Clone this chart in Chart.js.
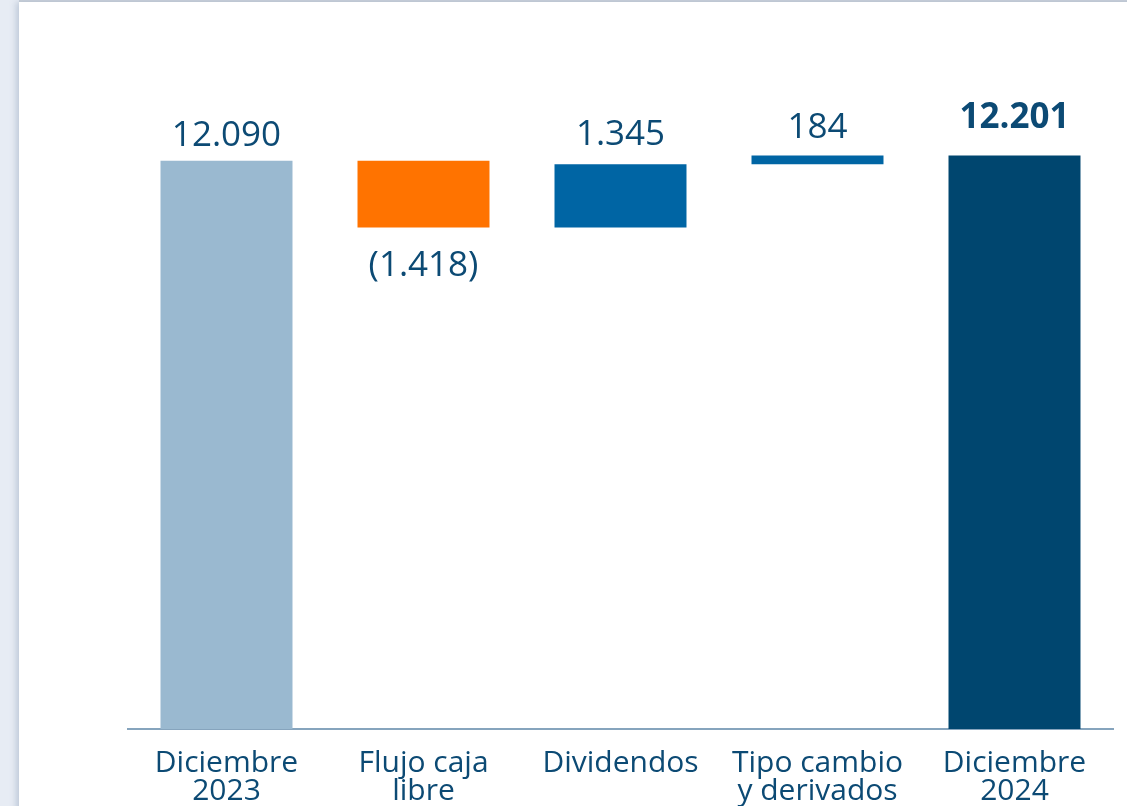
<!DOCTYPE html>
<html>
<head>
<meta charset="utf-8">
<script src="https://cdn.jsdelivr.net/npm/chart.js@4/dist/chart.umd.min.js"></script>
<style>
    html, body { margin: 0; padding: 0; }
    body { width: 1127px; height: 806px; background: #e7ecf4; overflow: hidden; position: relative; }
    #card {
        position: absolute; left: 19px; top: 2px; width: 1120px; height: 820px;
        background: #ffffff; box-shadow: -3px 0 6px rgba(120, 140, 170, 0.35);
    }
    #topline { position: absolute; left: 19px; top: 0; width: 1108px; height: 2px; background: #ccd3db; }
    #waterfall { position: absolute; left: 0; top: 0; width: 1127px; height: 806px; }
</style>
</head>
<body>
<div id="topline"></div>
<div id="card"></div>
<canvas id="waterfall" width="1127" height="806"></canvas>
<script>
    // data
    var categories = [["Diciembre", "2023"], ["Flujo caja", "libre"], "Dividendos", ["Tipo cambio", "y derivados"], ["Diciembre", "2024"]];
    var changes = [12090, -1418, 1345, 184, 12201];   // first and last are totals
    var valueLabels = ["12.090", "(1.418)", "1.345", "184", "12.201"];
    var barColors = ["#9ab9d0", "#ff7300", "#0065a4", "#0065a4", "#00466f"];

    // build floating bars [start, end]
    var floating = [];
    var running = 0;
    for (var i = 0; i < changes.length; i++) {
        if (i == 0 || i == changes.length - 1) {
            floating.push([0, changes[i]]);
            running = changes[i];
        } else {
            floating.push([running, running + changes[i]]);
            running = running + changes[i];
        }
    }

    var textColor = "#0c4a74";
    var fontFamily = "'Open Sans', 'DejaVu Sans', sans-serif";
    var labelGap = [15, 49, 19, 18, 28]; // px between bar edge and label baseline

    // draws the value labels above (or below for negatives) each bar
    var valueLabelPlugin = {
        id: 'valueLabels',
        afterDatasetsDraw: function (chart) {
            var ctx = chart.ctx;
            var meta = chart.getDatasetMeta(0);
            ctx.save();
            ctx.fillStyle = textColor;
            ctx.textAlign = 'center';
            ctx.textBaseline = 'alphabetic';
            meta.data.forEach(function (bar, idx) {
                var last = idx == changes.length - 1;
                ctx.font = (last ? "bold " : "") + "35px " + fontFamily;
                var top = Math.min(bar.y, bar.base);
                var bottom = Math.max(bar.y, bar.base);
                if (changes[idx] < 0) {
                    ctx.fillText(valueLabels[idx], bar.x, bottom + labelGap[idx]);
                } else {
                    ctx.fillText(valueLabels[idx], bar.x, top - labelGap[idx]);
                }
            });
            ctx.restore();
        }
    };

    var ctx = document.getElementById('waterfall').getContext('2d');
    var waterfall = new Chart(ctx, {
        type: 'bar',
        data: {
            labels: categories,
            datasets: [{
                data: floating,
                backgroundColor: barColors,
                borderWidth: 0,
                barPercentage: 0.67,
                categoryPercentage: 1.0
            }]
        },
        plugins: [valueLabelPlugin],
        options: {
            responsive: false,
            animation: false,
            layout: { padding: { left: 128, right: 14, top: 118, bottom: 0 } },
            plugins: {
                legend: { display: false },
                tooltip: { enabled: false }
            },
            scales: {
                x: {
                    grid: { display: false },
                    border: { display: true, color: '#86a4bd', width: 2 },
                    ticks: {
                        color: textColor,
                        font: { family: fontFamily, size: 30, lineHeight: 0.93 },
                        padding: 13,
                        maxRotation: 0,
                        autoSkip: false
                    },
                    afterFit: function (scale) { scale.height = 77; }
                },
                y: {
                    display: false,
                    min: 0,
                    max: 13000
                }
            }
        }
    });
</script>
</body>
</html>
